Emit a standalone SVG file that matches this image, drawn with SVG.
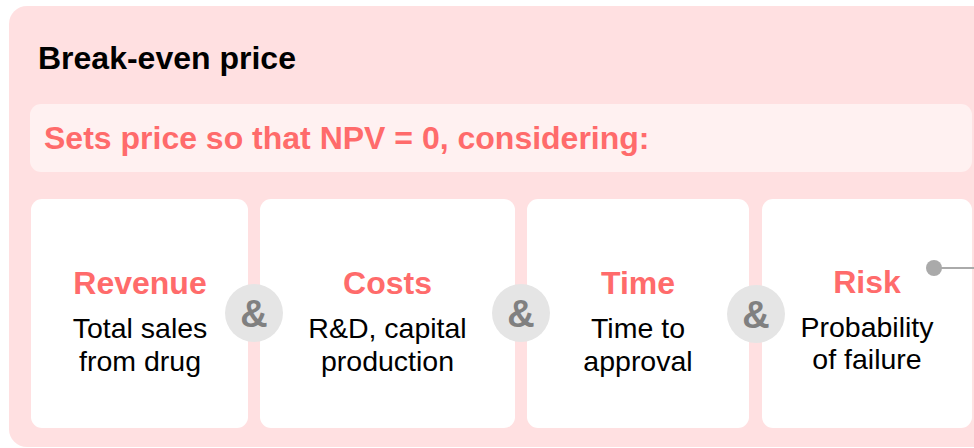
<svg xmlns="http://www.w3.org/2000/svg" width="974" height="448" viewBox="0 0 974 448">
<style>
.panel{fill:#FFE0E1}
.bar{fill:#FFF1F1}
.card{fill:#FFFFFF}
.title{font-family:"Liberation Sans",Arial,sans-serif;font-weight:bold;font-size:32px;fill:#000}
.sub{font-family:"Liberation Sans",Arial,sans-serif;font-weight:bold;font-size:32px;fill:#FF6B6B}
.head{font-family:"Liberation Sans",Arial,sans-serif;font-weight:bold;font-size:32px;fill:#FF6B6B;text-anchor:middle}
.body{font-family:"Liberation Sans",Arial,sans-serif;font-size:28.5px;fill:#000;text-anchor:middle}
.amp circle{fill:#E5E5E5}
.amp text{font-family:"Liberation Sans",Arial,sans-serif;font-weight:bold;font-size:38px;fill:#808080;text-anchor:middle}
</style>
<g id="panel">
<rect class="panel" x="9" y="6" width="990" height="441" rx="18"/>
<text class="title" x="38" y="69">Break-even price</text>
</g>
<g id="subtitle">
<rect class="bar" x="30" y="104" width="942" height="68" rx="11"/>
<text class="sub" x="44" y="149">Sets price so that NPV = 0, considering:</text>
</g>
<g id="revenue">
<rect class="card" x="31" y="199" width="217" height="229" rx="11"/>
<text class="head" x="140" y="294">Revenue</text>
<text class="body" x="140" y="338">Total sales</text>
<text class="body" x="140" y="371">from drug</text>
</g>
<g id="costs">
<rect class="card" x="260" y="199" width="255" height="229" rx="11"/>
<text class="head" x="387.5" y="294">Costs</text>
<text class="body" x="387.5" y="338">R&amp;D, capital</text>
<text class="body" x="387.5" y="371">production</text>
</g>
<g id="time">
<rect class="card" x="527" y="199" width="222" height="229" rx="11"/>
<text class="head" x="638" y="294">Time</text>
<text class="body" x="638" y="338">Time to</text>
<text class="body" x="638" y="371">approval</text>
</g>
<g id="risk">
<rect class="card" x="762" y="199" width="210" height="229" rx="11"/>
<text class="head" x="867" y="293">Risk</text>
<text class="body" x="867" y="337">Probability</text>
<text class="body" x="867" y="369">of failure</text>
</g>
<g id="amp1" class="amp"><circle cx="254" cy="313" r="29"/><text x="254" y="327">&amp;</text></g>
<g id="amp2" class="amp"><circle cx="521" cy="313" r="29"/><text x="521" y="327">&amp;</text></g>
<g id="amp3" class="amp"><circle cx="756" cy="314" r="29"/><text x="756" y="328">&amp;</text></g>
<g id="connectors">
<line x1="934" y1="268" x2="974" y2="268" stroke="#AAAAAA" stroke-width="2"/>
<circle cx="934" cy="268" r="8" fill="#AAAAAA"/>
</g>
</svg>
